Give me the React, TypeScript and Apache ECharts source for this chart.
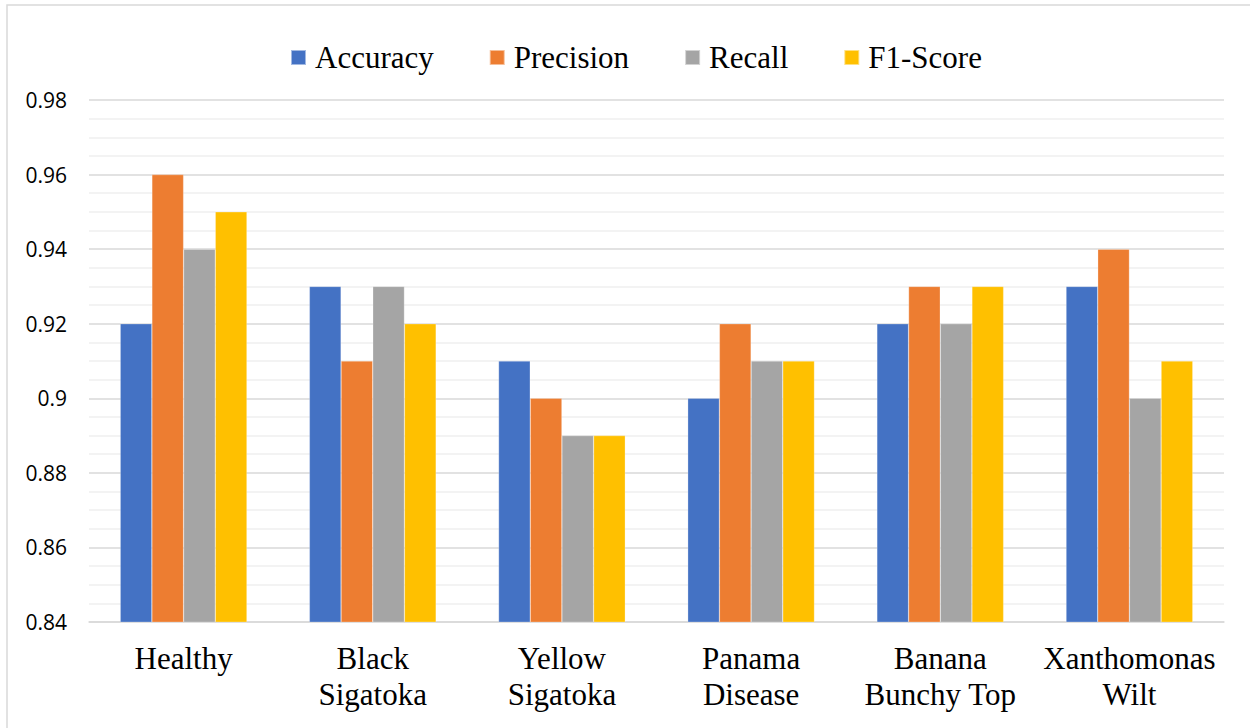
import React, { useEffect, useRef } from "react";
import * as echarts from "echarts";

const categories = [
  "Healthy",
  "Black\nSigatoka",
  "Yellow\nSigatoka",
  "Panama\nDisease",
  "Banana\nBunchy Top",
  "Xanthomonas\nWilt",
];
const accuracy = [0.92, 0.93, 0.91, 0.9, 0.92, 0.93];
const precision = [0.96, 0.91, 0.9, 0.92, 0.93, 0.94];
const recall = [0.94, 0.93, 0.89, 0.91, 0.92, 0.9];
const f1Score = [0.95, 0.92, 0.89, 0.91, 0.93, 0.91];
const yTicks = [0.84, 0.86, 0.88, 0.9, 0.92, 0.94, 0.96, 0.98];

const seriesDefs = [
  { name: "Accuracy", data: accuracy, color: "#4472C4" },
  { name: "Precision", data: precision, color: "#ED7D31" },
  { name: "Recall", data: recall, color: "#A5A5A5" },
  { name: "F1-Score", data: f1Score, color: "#FFC000" },
];

const serif = "'Liberation Serif', 'Times New Roman', serif";
const sans = "'Open Sans', 'Noto Sans', sans-serif";

export default function App() {
  const ref = useRef<HTMLDivElement>(null);

  useEffect(() => {
    if (!ref.current) return;
    const chart = echarts.init(ref.current, null, { renderer: "svg" });
    chart.setOption({
      animation: false,
      backgroundColor: "#ffffff",
      graphic: [
        {
          type: "rect",
          shape: { x: 7, y: 5, width: 1260, height: 740 },
          style: { fill: "none", stroke: "#d9d9d9", lineWidth: 1.5 },
          silent: true,
        },
      ],
      legend: {
        top: 37,
        left: 285,
        itemWidth: 15,
        itemHeight: 15,
        itemGap: 55,
        icon: "rect",
        textStyle: {
          fontFamily: serif,
          fontSize: 31,
          color: "#000",
          padding: [0, 0, 0, 4],
        },
        data: seriesDefs.map((s) => s.name),
      },
      grid: { left: 89, right: 26, top: 100, bottom: 106, containLabel: false },
      xAxis: {
        type: "category",
        data: categories,
        axisLine: { show: true, lineStyle: { color: "#d9d9d9", width: 1.5 } },
        axisTick: { show: false },
        axisLabel: {
          fontFamily: serif,
          fontSize: 31,
          color: "#000",
          lineHeight: 36,
          margin: 18,
          interval: 0,
        },
      },
      yAxis: {
        type: "value",
        min: yTicks[0],
        max: yTicks[yTicks.length - 1],
        interval: 0.02,
        axisLine: { show: false },
        axisTick: { show: false },
        axisLabel: {
          fontFamily: sans,
          fontSize: 21,
          color: "#000",
          margin: 22,
          formatter: (v: number) => String(parseFloat(v.toFixed(2))),
        },
        splitLine: { lineStyle: { color: "#d9d9d9", width: 1.5 } },
        minorTick: { show: false, splitNumber: 4 },
        minorSplitLine: { show: true, lineStyle: { color: "#efefef", width: 1.5 } },
      },
      series: seriesDefs.map((s) => ({
        name: s.name,
        type: "bar",
        data: s.data,
        barGap: "0%",
        barCategoryGap: "33%",
        itemStyle: { color: s.color, borderColor: "rgba(255,255,255,0.5)", borderWidth: 0.5 },
      })),
    });
    return () => chart.dispose();
  }, []);

  return (
    <div
      ref={ref}
      style={{ position: "fixed", left: 0, top: 0, width: 1250, height: 728 }}
    />
  );
}
